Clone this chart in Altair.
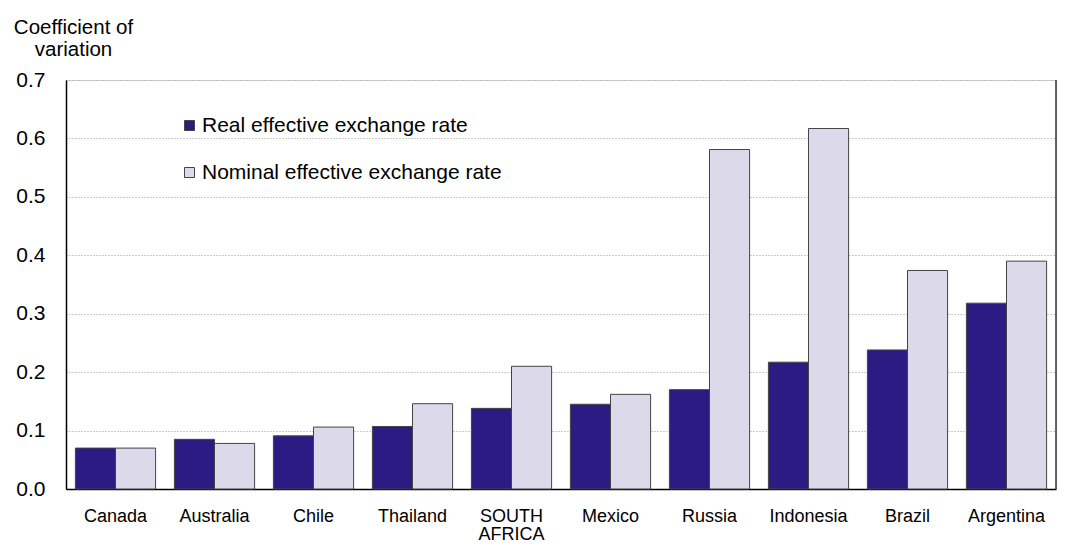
import altair as alt
import pandas as pd

countries = ["Canada", "Australia", "Chile", "Thailand", "SOUTH AFRICA",
             "Mexico", "Russia", "Indonesia", "Brazil", "Argentina"]
real_eer = [0.070, 0.085, 0.091, 0.107, 0.138, 0.145, 0.170, 0.217, 0.238, 0.318]
nominal_eer = [0.070, 0.078, 0.106, 0.146, 0.210, 0.162, 0.581, 0.617, 0.374, 0.390]
series_names = ["Real effective exchange rate", "Nominal effective exchange rate"]
series_colors = ["#2D1B84", "#DBD9EA"]
y_ticks = [0.0, 0.1, 0.2, 0.3, 0.4, 0.5, 0.6, 0.7]

rows = []
for c, r, n in zip(countries, real_eer, nominal_eer):
    rows.append({"country": c, "series": series_names[0], "value": r})
    rows.append({"country": c, "series": series_names[1], "value": n})
df = pd.DataFrame(rows)

W, H = 990, 409
FONT = "Liberation Sans"

bars = alt.Chart(df).mark_bar(stroke="#444444", strokeWidth=1).encode(
    x=alt.X("country:N", sort=countries,
            scale=alt.Scale(paddingInner=0.19, paddingOuter=0.095),
            axis=alt.Axis(title=None, labelAngle=0, ticks=False, grid=False,
                          domainColor="black", domainWidth=1.5,
                          labelFontSize=18, labelColor="black", labelFont=FONT,
                          labelPadding=18, labelLineHeight=18.5,
                          labelExpr="datum.value == 'SOUTH AFRICA' ? ['SOUTH', 'AFRICA'] : datum.value")),
    xOffset=alt.XOffset("series:N", sort=series_names,
                        scale=alt.Scale(paddingInner=0, paddingOuter=0)),
    y=alt.Y("value:Q", scale=alt.Scale(domain=[0, 0.7], nice=False, zero=True),
            axis=alt.Axis(values=y_ticks, format=".1f", ticks=False,
                          grid=True, gridColor="#999999", gridDash=[1, 2], gridWidth=1,
                          domainColor="black", domainWidth=1.5,
                          labelFontSize=21, labelColor="black", labelFont=FONT,
                          labelPadding=21,
                          title=["Coefficient of", "variation"], titleAngle=0,
                          titleFontSize=20.5, titleFontWeight="normal", titleFont=FONT,
                          titleColor="black", titleAlign="center", titleBaseline="alphabetic",
                          titleX=7, titleY=-47, titleLineHeight=22)),
    color=alt.Color("series:N", sort=series_names,
                    scale=alt.Scale(domain=series_names, range=series_colors),
                    legend=alt.Legend(title=None, orient="none", legendX=113, legendY=35,
                                      symbolType="square", symbolSize=100,
                                      symbolStrokeColor="#444444", symbolStrokeWidth=1,
                                      labelFontSize=21, labelFont=FONT, labelColor="black",
                                      labelOffset=2, rowPadding=25, labelLimit=500)),
)

right_rule = alt.Chart(alt.Data(values=[{}])).mark_rule(color="#333333", strokeWidth=1.5).encode(
    x=alt.value(W), y=alt.value(0), y2=alt.value(H)
)

chart = alt.layer(bars, right_rule).properties(
    width=W, height=H,
    autosize=alt.AutoSizeParams(type="none"),
    padding={"left": 58, "top": 72, "right": 1, "bottom": 55},
).configure_view(stroke=None).configure(font=FONT)

chart.save("out.html", embed_options={"renderer": "svg", "actions": False})
